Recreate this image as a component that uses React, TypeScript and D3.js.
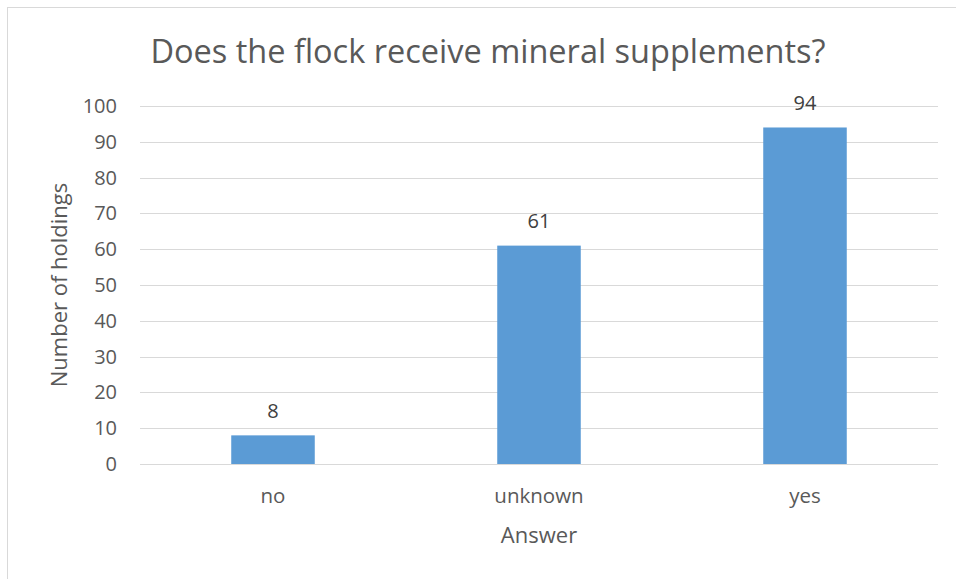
import React, { useEffect, useRef } from 'react';
import * as d3 from 'd3';

const categories = ['no', 'unknown', 'yes'];
const values = [8, 61, 94];
const yTicks = [0, 10, 20, 30, 40, 50, 60, 70, 80, 90, 100];

const title = 'Does the flock receive mineral supplements?';
const xTitle = 'Answer';
const yTitle = 'Number of holdings';

export default function App() {
  const svgRef = useRef<SVGSVGElement>(null);

  useEffect(() => {
    if (!svgRef.current) return;
    const svg = d3.select(svgRef.current);
    svg.selectAll('*').remove();

    const width = 956, height = 579;
    const font = '"Open Sans", sans-serif';
    const textColor = '#595959';
    const plot = { left: 140, right: 938, top: 106, bottom: 464 };

    svg.attr('width', width).attr('height', height);

    // chart frame
    svg.append('rect')
      .attr('x', 7.5).attr('y', 7.5)
      .attr('width', 960).attr('height', 600)
      .attr('fill', '#fff')
      .attr('stroke', '#D9D9D9');

    const x = d3.scaleBand<string>()
      .domain(categories)
      .range([plot.left, plot.right])
      .paddingInner(0.686)
      .paddingOuter(0.343);

    const band = d3.scaleBand<string>()
      .domain(categories)
      .range([plot.left, plot.right]);

    const y = d3.scaleLinear().domain([0, 100]).range([plot.bottom, plot.top]);

    // gridlines
    svg.append('g')
      .selectAll('line')
      .data(yTicks)
      .enter()
      .append('line')
      .attr('x1', plot.left)
      .attr('x2', plot.right)
      .attr('y1', d => Math.round(y(d)) + 0.5)
      .attr('y2', d => Math.round(y(d)) + 0.5)
      .attr('stroke', '#D9D9D9')
      .attr('stroke-width', 1);

    // y tick labels
    svg.append('g')
      .selectAll('text')
      .data(yTicks)
      .enter()
      .append('text')
      .attr('x', 117)
      .attr('y', d => y(d))
      .attr('dy', '0.35em')
      .attr('text-anchor', 'end')
      .attr('font-family', font)
      .attr('font-size', 20)
      .attr('fill', textColor)
      .text(d => d);

    // bars
    svg.append('g')
      .selectAll('rect')
      .data(values)
      .enter()
      .append('rect')
      .attr('x', (d, i) => x(categories[i]) || 0)
      .attr('y', d => y(d))
      .attr('width', x.bandwidth())
      .attr('height', d => y(0) - y(d))
      .attr('fill', '#5B9BD5');

    // data labels
    svg.append('g')
      .selectAll('text')
      .data(values)
      .enter()
      .append('text')
      .attr('x', (d, i) => (band(categories[i]) || 0) + band.bandwidth() / 2)
      .attr('y', d => y(d) - 17.5)
      .attr('text-anchor', 'middle')
      .attr('font-family', font)
      .attr('font-size', 20)
      .attr('fill', '#404040')
      .text(d => d);

    // category labels
    svg.append('g')
      .selectAll('text')
      .data(categories)
      .enter()
      .append('text')
      .attr('x', d => (band(d) || 0) + band.bandwidth() / 2)
      .attr('y', 503)
      .attr('text-anchor', 'middle')
      .attr('font-family', font)
      .attr('font-size', 20.5)
      .attr('fill', textColor)
      .text(d => d);

    // axis titles
    svg.append('text')
      .attr('x', (plot.left + plot.right) / 2)
      .attr('y', 543)
      .attr('text-anchor', 'middle')
      .attr('font-family', font)
      .attr('font-size', 22)
      .attr('fill', textColor)
      .text(xTitle);

    svg.append('text')
      .attr('transform', `translate(67,${(plot.top + plot.bottom) / 2}) rotate(-90)`)
      .attr('text-anchor', 'middle')
      .attr('font-family', font)
      .attr('font-size', 22)
      .attr('fill', textColor)
      .text(yTitle);

    // chart title
    svg.append('text')
      .attr('x', 488)
      .attr('y', 63)
      .attr('text-anchor', 'middle')
      .attr('font-family', font)
      .attr('font-size', 32.5)
      .attr('fill', textColor)
      .text(title);
  }, []);

  return (
    <svg ref={svgRef} style={{ position: 'absolute', left: 0, top: 0 }}></svg>
  );
}
